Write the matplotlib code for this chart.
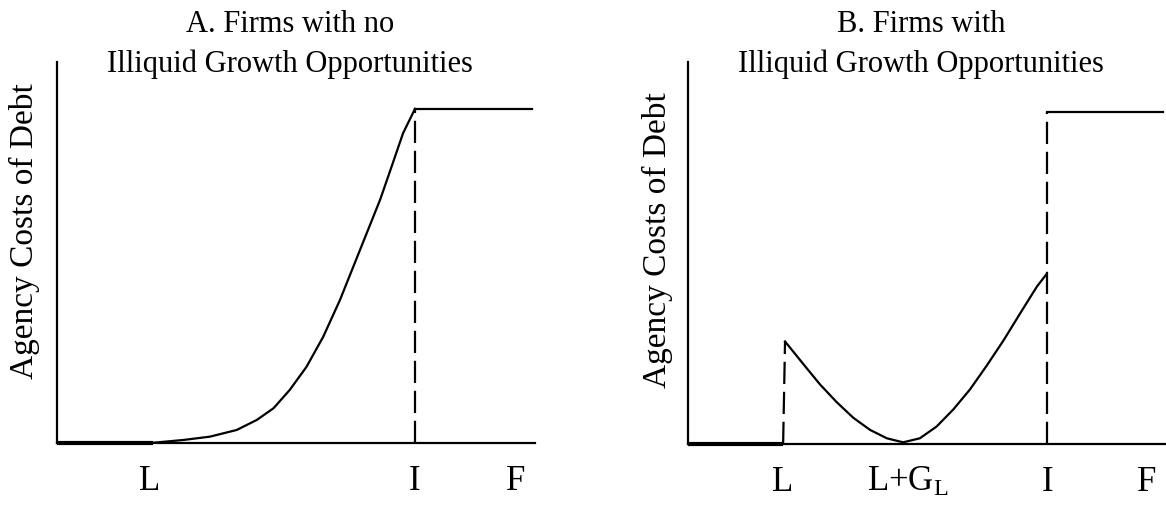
import numpy as np
import matplotlib
matplotlib.use("Agg")
import matplotlib.pyplot as plt

plt.rcParams['font.family'] = ['Liberation Serif', 'DejaVu Serif']
plt.rcParams['mathtext.fontset'] = 'custom'
plt.rcParams['mathtext.rm'] = 'Liberation Serif'
plt.rcParams['mathtext.it'] = 'Liberation Serif:italic'

# panel A: firms with no illiquid growth opportunities
a_flat_x = [0.0, 0.201]
a_flat_y = [0.0, 0.0]
a_curve_x = [0.195, 0.264, 0.320, 0.376, 0.418, 0.453, 0.487, 0.522, 0.557, 0.592,
             0.620, 0.676, 0.700, 0.724, 0.749]
a_curve_y = [0.0, 0.009, 0.019, 0.039, 0.069, 0.104, 0.159, 0.228, 0.318, 0.428,
             0.528, 0.728, 0.827, 0.927, 1.0]
a_top_x = [0.749, 0.994]
a_top_y = [1.0, 1.0]
a_ticks = [0.194, 0.747, 0.960]
a_labels = ['L', 'I', 'F']

# panel B: firms with illiquid growth opportunities
b_flat_x = [0.0, 0.199]
b_flat_y = [0.0, 0.0]
b_curve_x = [0.203, 0.241, 0.276, 0.311, 0.346, 0.381, 0.416, 0.450, 0.485, 0.520,
             0.555, 0.590, 0.625, 0.660, 0.695, 0.730, 0.749]
b_curve_y = [0.306, 0.239, 0.178, 0.125, 0.078, 0.042, 0.017, 0.005, 0.017, 0.052,
             0.103, 0.163, 0.234, 0.309, 0.390, 0.470, 0.505]
b_top_x = [0.751, 0.994]
b_top_y = [0.99, 0.99]
b_ticks = [0.199, 0.460, 0.753, 0.960]
b_labels = ['L', 'L+G$_{\\mathrm{L}}$', 'I', 'F']

fig = plt.figure(figsize=(11.66, 5.08), dpi=100)
axA = fig.add_axes([57/1166, 65/508, 478/1166, 381/508])
axB = fig.add_axes([688/1166, 64/508, 478/1166, 382/508])


def setup(ax, ticks, labels, title1, ylab_pos):
    ax.set_xlim(0, 1)
    ax.set_ylim(0, 1.14)
    for s in ['top', 'right']:
        ax.spines[s].set_visible(False)
    ax.spines['left'].set_linewidth(1.6)
    ax.spines['bottom'].set_linewidth(1.6)
    ax.set_yticks([])
    ax.set_xticks(ticks)
    ax.set_xticklabels(labels, fontsize=25)
    ax.tick_params(axis='x', length=0, pad=16)
    ax.text(0.487, 1.079, title1, transform=ax.transAxes, ha='center', va='baseline', fontsize=22)
    ax.text(0.487, 0.974, 'Illiquid Growth Opportunities', transform=ax.transAxes,
            ha='center', va='baseline', fontsize=22)
    ax.text(ylab_pos[0], ylab_pos[1], 'Agency Costs of Debt', transform=ax.transAxes,
            rotation=90, ha='center', va='center', fontsize=24)


setup(axA, a_ticks, a_labels, 'A. Firms with no', (-0.069, 0.556))
axA.plot(a_flat_x, a_flat_y, color='black', lw=3.0, solid_capstyle='butt', clip_on=False)
axA.plot(a_curve_x, a_curve_y, color='black', lw=1.6, clip_on=False, solid_joinstyle='round')
axA.plot(a_top_x, a_top_y, color='black', lw=1.6)
axA.plot([a_curve_x[-1], a_curve_x[-1]], [0, a_curve_y[-1]], color='black', lw=1.6,
         dashes=(10, 3.5), clip_on=False)

setup(axB, b_ticks, b_labels, 'B. Firms with', (-0.063, 0.533))
axB.plot(b_flat_x, b_flat_y, color='black', lw=3.0, solid_capstyle='butt', clip_on=False)
axB.plot(b_curve_x, b_curve_y, color='black', lw=1.6, clip_on=False, solid_joinstyle='round')
axB.plot(b_top_x, b_top_y, color='black', lw=1.6, clip_on=False)
axB.plot([b_flat_x[-1], b_curve_x[0]], [0, b_curve_y[0]], color='black', lw=1.6,
         dashes=(10, 3.5), clip_on=False)
axB.plot([b_top_x[0], b_top_x[0]], [0, b_top_y[0]], color='black', lw=1.6,
         dashes=(10, 3.5), clip_on=False)

fig.savefig('out.png', dpi=100)
